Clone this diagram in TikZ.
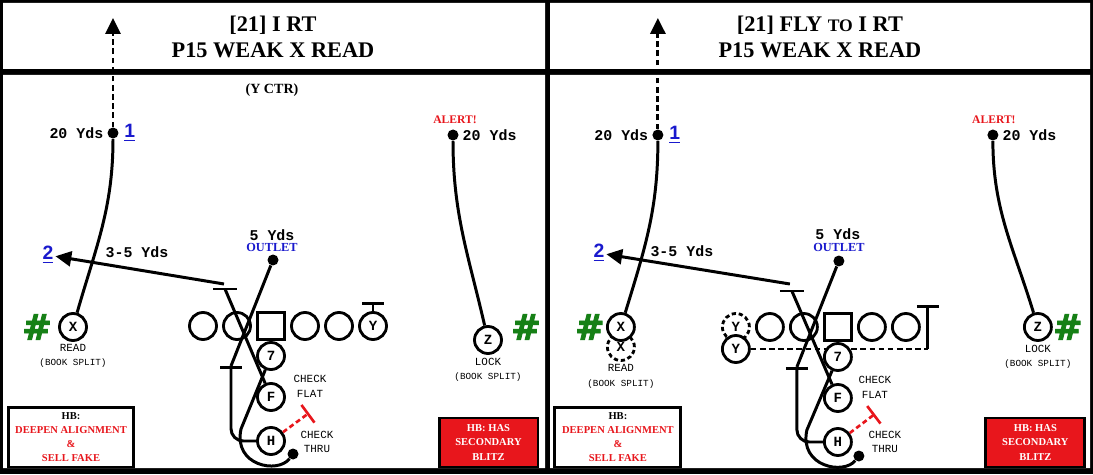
\documentclass[tikz,border=0pt]{standalone}
\usepackage{fontspec}
\setmainfont{Liberation Serif}
\setsansfont{Liberation Sans}
\setmonofont{Liberation Mono}
\newfontfamily\hashfont[BoldFeatures={FakeBold=2.5}]{DejaVu Sans}
\usetikzlibrary{arrows.meta, positioning}

\definecolor{outletblue}{RGB}{25,25,205}
\definecolor{alertred}{RGB}{232,22,28}
\definecolor{hashgreen}{RGB}{22,128,22}

\tikzset{
  player/.style={draw, circle, line width=1.6pt, minimum size=0.54cm, inner sep=0pt, fill=white,
    font=\ttfamily\bfseries\fontsize{8}{9}\selectfont},
  ghost/.style={player, dash pattern=on 2.4pt off 1.6pt},
  snapbox/.style={draw, line width=1.6pt, minimum size=0.54cm, inner sep=0pt, fill=white},
  route/.style={line width=1.7pt},
  motion/.style={route, dash pattern=on 3.2pt off 2pt},
  block/.style={route, -{Bar[width=12.5pt]}},
  deep/.style={-{Triangle[length=9pt, width=8.5pt]}},
  check/.style={line width=1.5pt, alertred, dash pattern=on 2.8pt off 1.8pt, -{Bar[width=12.5pt]}},
  dot/.style={circle, fill, inner sep=0pt, minimum size=0.22cm},
  title/.style={align=center, font=\bfseries\fontsize{12.7}{14.8}\selectfont},
  yds/.style={inner sep=0.5pt, font=\ttfamily\bfseries\fontsize{8.5}{10}\selectfont},
  note/.style={inner sep=0pt, align=center, font=\ttfamily\fontsize{6.2}{8.4}\selectfont},
  tiny/.style={inner sep=0pt, font=\ttfamily\fontsize{5.3}{6}\selectfont},
  num/.style={inner sep=1pt, text=outletblue, font=\sffamily\bfseries\fontsize{11}{12}\selectfont},
  hash/.style={inner sep=0pt, text=hashgreen, font=\hashfont\bfseries\fontsize{20}{22}\selectfont},
  alert/.style={inner sep=0pt, text=alertred, font=\bfseries\fontsize{6.6}{8}\selectfont},
  outlet/.style={inner sep=0pt, text=outletblue, font=\bfseries\fontsize{7}{8}\selectfont},
  hbbox/.style={draw, line width=1.7pt, fill=white, inner sep=0pt, align=center, text=alertred,
    minimum width=2.52cm, minimum height=1.2cm, font=\bfseries\fontsize{6}{8.1}\selectfont},
  blitzbox/.style={hbbox, fill=alertred, text=white, minimum width=1.98cm, minimum height=0.98cm}
}

\begin{document}
\begin{tikzpicture}[x=0.02cm, y=0.02cm]
  \useasboundingbox (0,0) rectangle (1093,474);
  % frames
  \fill (0,0) rectangle (1093,474);
  \fill[white] (3,6) rectangle (545,399) (3,405) rectangle (545,471)
    (550,6) rectangle (1090,399) (550,405) rectangle (1090,471);

  % ---- left card ----
  \node[title] (head) at (273,437) {[21] I RT\\P15 WEAK X READ};
  \node[inner sep=0pt, font=\bfseries\fontsize{8}{9}\selectfont] (ctr) at (272,384) {(Y CTR)};

  % X side
  \node[player] (X) at (73,147) {X};
  \node[hash] (hashX) at (37,147) {\#};
  \node[note] (readX) at (73,126) {READ};
  \node[tiny] (splitX) at (73,111) {(BOOK SPLIT)};
  \node[dot] (fly) at (113,341) {};
  \coordinate (flyend) at (113,456);
  \node[yds, left=1.5pt of fly] (flyyds) {20 Yds};
  \node[num, right=2pt of fly] (one) {\underline{1}};
  \draw[route] (X) to[out=74, in=-90] (fly);
  \draw[motion, deep] (fly) -- (flyend);

  % Z side
  \node[dot] (post) at (453,339) {};
  \node[alert] (alert) at (455,354) {ALERT!};
  \node[yds, right=1.5pt of post] (postyds) {20 Yds};
  \node[player] (Z) at (488,134) {Z};
  \node[hash] (hashZ) at (526,147) {\#};
  \node[note] (lockZ) at (488,112) {LOCK};
  \node[tiny] (splitZ) at (488,97) {(BOOK SPLIT)};
  \draw[route] (Z) to[out=103, in=-90] (post);

  % line and backs
  \node[player] (LT) at (203,148) {};
  \node[player] (LG) at (237,148) {};
  \node[snapbox] (C) at (271,148) {};
  \node[player] (RG) at (305,148) {};
  \node[player] (RT) at (339,148) {};
  \node[player] (Y) at (373,148) {Y};
  \node[player] (QB) at (271,118) {7};
  \node[player] (F) at (271,77) {F};
  \node[player] (H) at (271,33) {H};
  \coordinate (Yblk) at (373,172);
  \draw[block] (Y) -- (Yblk);

  % F block and X second read
  \coordinate (Fblk) at (225,185);
  \coordinate (twostart) at (224,190);
  \node[num] (two) at (48,219) {\underline{2}};
  \node[yds] (short) at (137,222) {3-5 Yds};
  \draw[route] (F) -- (Fblk);
  \draw[route] (Fblk) ++(-12,0) -- ++(24,0);
  \draw[route, deep] (twostart) -- (two);

  % H check and outlet
  \coordinate (Hblk) at (231,108);
  \node[dot] (outlet) at (273,214) {};
  \node[yds] (outyds) at (272,239) {5 Yds};
  \node[outlet] (outtext) at (272,227) {OUTLET};
  \draw[block, rounded corners=7pt] (H) -| (Hblk);
  \draw[route] (Hblk) -- (outlet);
  \coordinate (chk) at (309,61);
  \draw[check] (H) -- (chk);
  \node[note] (flat) at (310,88) {CHECK\\FLAT};
  \node[note] (thru) at (317,32) {CHECK\\THRU};

  % QB drop
  \coordinate (qbturn) at (241,45);
  \node[dot] (qbset) at (293,20) {};
  \draw[route] (QB) -- (qbturn) .. controls (233,8) and (278,0) .. (qbset);

  \node[hbbox] (hbL) at (71,37) {{\color{black}HB:}\\DEEPEN ALIGNMENT\\\&\\SELL FAKE};
  \node[blitzbox] (blitzL) at (488.5,31.5) {HB: HAS\\SECONDARY\\BLITZ};

  % ---- right card ----
  \begin{scope}[xshift=10.94cm]
    \node[title] (head2) at (273,437) {[21] FLY {\fontsize{10}{12}\selectfont TO} I RT\\P15 WEAK X READ};

    % X side
    \node[ghost] (Xg) at (74,127) {X};
    \node[player] (X2) at (74,147) {X};
    \node[hash] (hashX2) at (43,147) {\#};
    \node[note] (readX2) at (74,106) {READ};
    \node[tiny] (splitX2) at (74,90) {(BOOK SPLIT)};
    \node[dot] (fly2) at (111,339) {};
    \coordinate (flyend2) at (111,456);
    \node[yds, left=1.5pt of fly2] (flyyds2) {20 Yds};
    \node[num, right=2pt of fly2] (one2) {\underline{1}};
    \draw[route] (X2) to[out=73, in=-90] (fly2);
    \draw[motion, deep] (fly2) -- (flyend2);

    % Z side
    \node[dot] (post2) at (446,339) {};
    \node[alert] (alert2) at (447,354) {ALERT!};
    \node[yds, right=1.5pt of post2] (postyds2) {20 Yds};
    \node[player] (Z2) at (491,147) {Z};
    \node[hash] (hashZ2) at (521,147) {\#};
    \node[note] (lockZ2) at (491,125) {LOCK};
    \node[tiny] (splitZ2) at (491,110) {(BOOK SPLIT)};
    \draw[route] (Z2) to[out=107, in=-90] (post2);

    % line, Y motion, backs
    \node[ghost] (Yg) at (189,147) {Y};
    \node[player] (LT2) at (223,147) {};
    \node[player] (LG2) at (257,147) {};
    \node[snapbox] (C2) at (291,147) {};
    \node[player] (RG2) at (325,147) {};
    \node[player] (RT2) at (359,147) {};
    \node[player] (Y2) at (189,125) {Y};
    \coordinate (Ymot) at (381,125);
    \coordinate (Yblk2) at (381,169);
    \draw[motion] (Y2) -- (Ymot);
    \draw[block] (Ymot) -- (Yblk2);
    \node[player] (QB2) at (291,117) {7};
    \node[player] (F2) at (291,76) {F};
    \node[player] (H2) at (291,32) {H};

    % F block and X second read
    \coordinate (Fblk2) at (245,183);
    \coordinate (twostart2) at (243,190);
    \node[num] (two2) at (52,221) {\underline{2}};
    \node[yds] (short2) at (135,223) {3-5 Yds};
    \draw[route] (F2) -- (Fblk2);
    \draw[route] (Fblk2) ++(-12,0) -- ++(24,0);
    \draw[route, deep] (twostart2) -- (two2);

    % H check and outlet
    \coordinate (Hblk2) at (250,107);
    \node[dot] (outlet2) at (292,213) {};
    \node[yds] (outyds2) at (291,240) {5 Yds};
    \node[outlet] (outtext2) at (292,227) {OUTLET};
    \draw[block, rounded corners=7pt] (H2) -| (Hblk2);
    \draw[route] (Hblk2) -- (outlet2);
    \coordinate (chk2) at (328,60);
    \draw[check] (H2) -- (chk2);
    \node[note] (flat2) at (328,87) {CHECK\\FLAT};
    \node[note] (thru2) at (338,32) {CHECK\\THRU};

    % QB drop
    \coordinate (qbturn2) at (260,44);
    \node[dot] (qbset2) at (312,18) {};
    \draw[route] (QB2) -- (qbturn2) .. controls (252,7) and (297,-1) .. (qbset2);

    \node[hbbox] (hbR) at (71,37) {{\color{black}HB:}\\DEEPEN ALIGNMENT\\\&\\SELL FAKE};
    \node[blitzbox] (blitzR) at (488.5,31.5) {HB: HAS\\SECONDARY\\BLITZ};
  \end{scope}
\end{tikzpicture}
\end{document}
